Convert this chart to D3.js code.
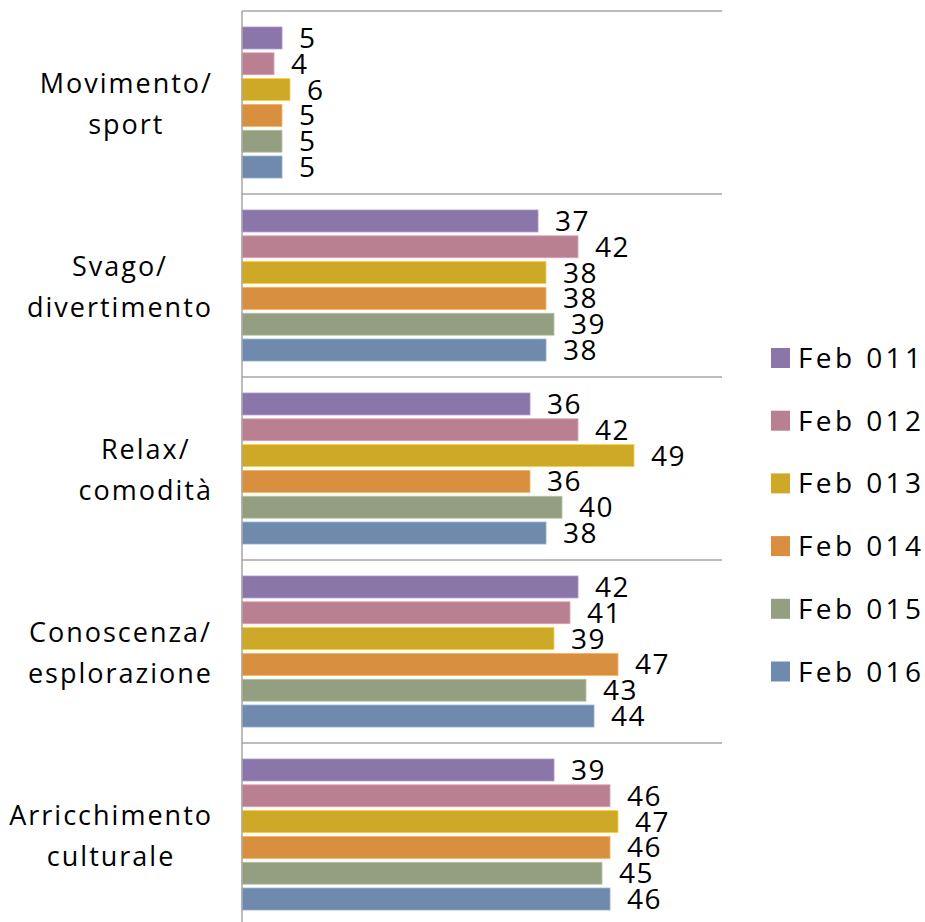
<!DOCTYPE html>
<html>
<head>
<meta charset="utf-8">
<script src="https://cdn.jsdelivr.net/npm/d3@7"></script>
<style>
  body { margin: 0; background: #fff; }
  svg { display: block; }
  text { font-family: "Open Sans", "DejaVu Sans", sans-serif; fill: #000; }
</style>
</head>
<body>
<div id="chart"></div>
<script>
// categories, top to bottom
var categories = ["Movimento/sport", "Svago/divertimento", "Relax/comodità", "Conoscenza/esplorazione", "Arricchimento culturale"];
var categoryLines = [["Movimento/", "sport"], ["Svago/", "divertimento"], ["Relax/", "comodità"], ["Conoscenza/", "esplorazione"], ["Arricchimento", "culturale"]];

// series (legend order)
var series = ["Feb 011", "Feb 012", "Feb 013", "Feb 014", "Feb 015", "Feb 016"];
var colors = ["#8a76a9", "#b88091", "#cea827", "#d88f3f", "#939f80", "#6f8aac"];

// values per series, one per category
var feb011 = [5, 37, 36, 42, 39];
var feb012 = [4, 42, 42, 41, 46];
var feb013 = [6, 38, 49, 39, 47];
var feb014 = [5, 38, 36, 47, 46];
var feb015 = [5, 39, 40, 43, 45];
var feb016 = [5, 38, 38, 44, 46];
var seriesValues = [feb011, feb012, feb013, feb014, feb015, feb016];

var width = 925;
var height = 922;
var plotLeft = 242, plotRight = 722, plotTop = 11, plotBottom = 926;

var svg = d3.select("#chart")
  .append("svg")
  .attr("width", width)
  .attr("height", height);

var x = d3.scaleLinear().domain([0, 60]).range([plotLeft, plotRight]);
var y = d3.scaleBand().domain(categories).range([plotTop, plotBottom]);
var y1 = d3.scaleBand().domain(series).range([0, y.bandwidth()])
  .paddingInner(0.15).paddingOuter(0.62);

// horizontal separators
var seps = categories.map(c => y(c)).concat([plotBottom]);
svg.selectAll("line.sep")
  .data(seps)
  .enter()
  .append("line")
  .attr("class", "sep")
  .attr("x1", plotLeft).attr("x2", plotRight)
  .attr("y1", d => d).attr("y2", d => d)
  .attr("stroke", "#a6a6a6")
  .attr("stroke-width", 1.5);

// bars
var groups = svg.selectAll("g.cat")
  .data(categories)
  .enter()
  .append("g")
  .attr("class", "cat")
  .attr("transform", d => "translate(0," + y(d) + ")");

groups.each(function(cat, ci) {
  var g = d3.select(this);
  var rows = series.map((s, si) => ({ s: s, si: si, v: seriesValues[si][ci] }));

  g.selectAll("rect")
    .data(rows)
    .enter()
    .append("rect")
    .attr("x", x(0))
    .attr("y", d => y1(d.s))
    .attr("width", d => x(d.v) - x(0))
    .attr("height", y1.bandwidth())
    .attr("fill", d => colors[d.si])
    .attr("stroke", d => d3.color(colors[d.si]).brighter(0.6))
    .attr("stroke-width", 0.8);

  g.selectAll("text.val")
    .data(rows)
    .enter()
    .append("text")
    .attr("class", "val")
    .attr("x", d => x(d.v) + 17)
    .attr("y", d => y1(d.s) + y1.bandwidth() / 2)
    .attr("dy", "0.36em")
    .style("font-size", "28px")
    .style("letter-spacing", "1.5px")
    .text(d => d.v);

  // category label: lines centered in a block that is right-aligned
  var lab = g.append("g");
  var lines = categoryLines[ci];
  var mid = y.bandwidth() / 2;
  var texts = lab.selectAll("text")
    .data(lines)
    .enter()
    .append("text")
    .attr("y", (d, i) => mid - 10 + i * 41)
    .attr("text-anchor", "middle")
    .style("font-size", "27px")
    .style("letter-spacing", "2px")
    .text(d => d);
  var maxW = 0;
  texts.each(function() { maxW = Math.max(maxW, this.getComputedTextLength()); });
  texts.attr("x", 213 - maxW / 2);
});

// vertical axis line
svg.append("line")
  .attr("x1", plotLeft).attr("x2", plotLeft)
  .attr("y1", plotTop).attr("y2", plotBottom)
  .attr("stroke", "#a6a6a6")
  .attr("stroke-width", 1.5);

// legend
var legend = svg.selectAll("g.legend")
  .data(series)
  .enter()
  .append("g")
  .attr("class", "legend")
  .attr("transform", (d, i) => "translate(771," + (358 + i * 62.7) + ")");

legend.append("rect")
  .attr("x", 0).attr("y", -10)
  .attr("width", 19).attr("height", 20)
  .attr("fill", (d, i) => colors[i]);

legend.append("text")
  .attr("x", 27)
  .attr("dy", "0.36em")
  .style("font-size", "28px")
  .style("letter-spacing", "3.4px")
  .text(d => d);
</script>
</body>
</html>
